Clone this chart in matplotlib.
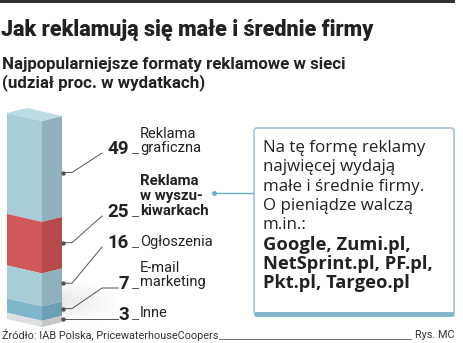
import matplotlib
matplotlib.use("Agg")
import matplotlib.pyplot as plt
import numpy as np
from matplotlib.patches import FancyBboxPatch

# data
values = [49, 25, 16, 7, 3]
numbers = ["49", "25", "16", "7", "3"]
labels = ["Reklama\ngraficzna", "Reklama\nw wyszu-\nkiwarkach", "Ogłoszenia", "E-mail\nmarketing", "Inne"]
label_bold = [False, True, False, False, False]
front_colors = ["#a9cdd7", "#cf5858", "#a9cdd7", "#7fb6cb", "#dcdedf"]
side_colors = ["#8fb1bb", "#b64a4a", "#8fb1bb", "#6a9fb4", "#c4c6c7"]

title = "Jak reklamują się małe i średnie firmy"
subtitle = "Najpopularniejsze formaty reklamowe w sieci\n(udział proc. w wydatkach)"
box_lines = ["Na tę formę reklamy", "najwięcej wydają", "małe i średnie firmy.",
             "O pieniądze walczą", "m.in.:"]
box_bold = ["Google, Zumi.pl,", "NetSprint.pl, PF.pl,", "Pkt.pl, Targeo.pl"]
source = "Źródło: IAB Polska, PricewaterhouseCoopers"
credit = "Rys. MC"

TXT = ["Roboto", "DejaVu Sans"]
BOX = ["Open Sans", "DejaVu Sans"]
dark = "#333333"

fig = plt.figure(figsize=(4.64, 3.43), dpi=100)
ax = fig.add_axes([0, 0, 1, 1])
ax.set_xlim(0, 464)
ax.set_ylim(343, 0)
ax.axis("off")

# top rule
ax.fill([0, 455, 455, 0], [0, 0, 3, 3], color=dark, lw=0)

ax.text(1, 30, title, family=TXT, weight="black", fontsize=15.5, color="#222222", va="center")
ax.text(2, 74, subtitle, family=TXT, weight="bold", fontsize=12.2, color="#222222",
        va="center", linespacing=1.2)

# column geometry
x0, x1, x2 = 7, 42, 62
top, bottom = 113, 319
drop, rise = 8, 5
scale = (bottom - top) / sum(values)

# soft shadow
gx = np.linspace(1, 0, 80)[None, :]
gy = np.sin(np.linspace(0, np.pi, 40))[:, None]
grad = 0.16 * gx * gy
ax.imshow(np.dstack([np.full_like(grad, 0.45)] * 3 + [grad]), extent=(62, 120, 322, 282),
          aspect="auto", interpolation="bilinear", zorder=0)

y = top
dots = []
frac = [0.56, 0.5, 0.45, 0.5, 0.5]
for v, fc, sc, f in zip(values, front_colors, side_colors, frac):
    y2 = y + v * scale
    ax.fill([x0, x1, x1, x0], [y, y + drop, y2 + drop, y2], color=fc, lw=0, zorder=2)
    ax.fill([x1, x2, x2, x1], [y + drop, y + drop - rise, y2 + drop - rise, y2 + drop],
            color=sc, lw=0, zorder=2)
    dots.append(y + drop - rise + f * (y2 - y))
    y = y2
# top face
ax.fill([x0, x1, x2, x0 + (x2 - x1)], [top, top + drop, top + drop - rise, top - rise],
        color="#bcdae2", lw=0, zorder=3)

# labels and leaders
num_y = [153, 216, 247, 288, 318]
lab_y = [141, 196, 242, 275, 313]
lc = "#555555"
for i, (n, lab, b) in enumerate(zip(numbers, labels, label_bold)):
    dy = dots[i]
    ny = num_y[i]
    ax.plot([x2 + 1], [dy], "o", ms=2.2, color=lc, zorder=4)
    if i == len(values) - 1:
        ax.plot([x2 + 1, 118], [dy, dy], color=lc, lw=0.7)
        ny = dy
    else:
        xd = 102
        xs = [x2 + 1, 72, xd]
        ys = [dy, dy, ny]
        if len(n) == 1:
            xs.append(118)
            ys.append(ny)
        ax.plot(xs, ys, color=lc, lw=0.7)
    ax.text(129, ny + 1, n, family=TXT, weight="bold", fontsize=13.5, color="#222222",
            ha="right", va="baseline")
    ax.plot([132, 138], [ny, ny], color=lc, lw=0.7)
    ax.text(140, lab_y[i], lab, family=TXT, weight="bold" if b else "normal",
            fontsize=10.8 if b else 10.5, color="#222222", va="center", linespacing=1.05)

# callout box
blue = "#7fb5cc"
ax.plot([214], [193], "o", ms=2.5, color="#6aaed0")
ax.plot([214, 253], [193, 193], color="#6aaed0", lw=1)
box = FancyBboxPatch((254, 128), 200, 186, boxstyle="round,pad=0,rounding_size=3",
                     fc="white", ec="#9cc6d8", lw=1.2)
ax.add_patch(box)
ax.plot([256, 452], [314, 314], color=blue, lw=3.5, solid_capstyle="round")

ly = 148
for line in box_lines:
    ax.text(263, ly, line, family=BOX, fontsize=12.2, color="#222222", va="center")
    ly += 19.3
for line in box_bold:
    ax.text(263, ly, line, family=BOX, weight="bold", fontsize=13.2, color="#222222", va="center")
    ly += 19.3

# footer
ax.text(2, 335, source, family=TXT, fontsize=7.8, color="#333333", va="center")
ax.plot([219, 411], [339, 339], color="#555555", lw=0.6)
ax.text(455, 335, credit, family=TXT, fontsize=7.8, color="#333333", va="center", ha="right")

fig.savefig("out.png", dpi=100, facecolor="white")
